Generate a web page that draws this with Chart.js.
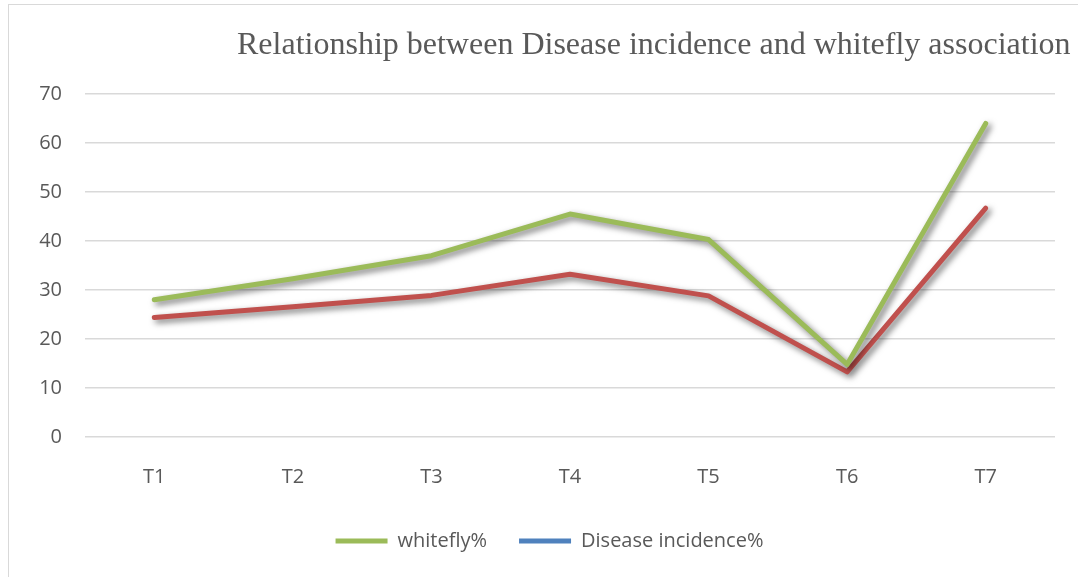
<!DOCTYPE html>
<html>
<head>
<meta charset="utf-8">
<script src="https://cdn.jsdelivr.net/npm/chart.js@4.4.1/dist/chart.umd.min.js"></script>
<style>
    html, body { margin: 0; padding: 0; background: #fff; overflow: hidden; }
    #wrap { position: relative; width: 1078px; height: 577px; }
    #frame {
        position: absolute; left: 8px; top: 4px; width: 1200px; height: 700px;
        border: 1px solid #d9d9d9; box-sizing: border-box;
    }
    canvas { position: absolute; left: 0; top: 0; }
</style>
</head>
<body>
<div id="wrap">
    <div id="frame"></div>
    <canvas id="chart" width="1078" height="577"></canvas>
</div>
<script>
// --- Data ---
const categories = ['T1', 'T2', 'T3', 'T4', 'T5', 'T6', 'T7'];
const whitefly = [28.0, 32.3, 37.0, 45.5, 40.3, 14.8, 64.0];
const disease = [24.4, 26.6, 28.9, 33.2, 28.8, 13.3, 46.7];
const yTicks = [0, 10, 20, 30, 40, 50, 60, 70];

const chartTitle = 'Relationship between Disease incidence and whitefly association';
const textColor = '#595959';
const labelFont = { family: '"Open Sans", sans-serif', size: 20 };

// --- Plugins ---
// soft drop shadow under each line, like the office chart
const lineShadow = {
    id: 'lineShadow',
    beforeDatasetDraw(chart) {
        const ctx = chart.ctx;
        ctx.save();
        ctx.shadowColor = 'rgba(0,0,0,0.55)';
        ctx.shadowBlur = 6;
        ctx.shadowOffsetX = 3;
        ctx.shadowOffsetY = 3;
    },
    afterDatasetDraw(chart) {
        chart.ctx.restore();
    }
};

// title sits off-centre to the right in the reference
const titleText = {
    id: 'titleText',
    afterDraw(chart) {
        const ctx = chart.ctx;
        ctx.save();
        ctx.font = '32px "Liberation Serif", "Times New Roman", serif';
        ctx.fillStyle = textColor;
        ctx.textAlign = 'left';
        ctx.textBaseline = 'alphabetic';
        ctx.fillText(chartTitle, 237, 54);
        ctx.restore();
    }
};

// legend in the reference is centred a bit right of the canvas middle
const legendShift = {
    id: 'legendShift',
    afterLayout(chart) {
        if (!chart.legend) return;
        chart.legend.left += 22;
        chart.legend.right += 22;
    }
};

const ctx = document.getElementById('chart');

new Chart(ctx, {
    type: 'line',
    data: {
        labels: categories,
        datasets: [
            {
                label: 'whitefly%',
                data: whitefly,
                borderColor: '#9BBB59',
                backgroundColor: '#9BBB59',
                borderWidth: 5,
                pointRadius: 0,
                tension: 0,
                borderCapStyle: 'round',
                borderJoinStyle: 'round'
            },
            {
                label: 'Disease incidence%',
                data: disease,
                borderColor: '#C0504D',
                backgroundColor: '#C0504D',
                borderWidth: 5,
                pointRadius: 0,
                tension: 0,
                borderCapStyle: 'round',
                borderJoinStyle: 'round'
            }
        ]
    },
    options: {
        responsive: false,
        animation: false,
        layout: { padding: { top: 94, right: 23, left: 0, bottom: 16 } },
        scales: {
            x: {
                offset: true,
                afterFit(scale) { scale.height = 62; },
                grid: { display: false, drawTicks: false },
                border: { display: false },
                ticks: {
                    color: textColor,
                    padding: 28,
                    font: labelFont
                }
            },
            y: {
                min: 0,
                max: 70,
                afterFit(scale) { scale.width = 85; },
                afterBuildTicks(scale) { scale.ticks = yTicks.map(v => ({ value: v })); },
                grid: { color: '#d9d9d9', lineWidth: 1.5, drawTicks: false },
                border: { display: false },
                ticks: {
                    color: textColor,
                    padding: 23,
                    font: labelFont
                }
            }
        },
        plugins: {
            tooltip: { enabled: false },
            title: { display: false },
            legend: {
                position: 'bottom',
                labels: {
                    color: textColor,
                    usePointStyle: true,
                    pointStyle: 'line',
                    pointStyleWidth: 52,
                    padding: 32,
                    font: labelFont,
                    generateLabels(chart) {
                        const items = Chart.defaults.plugins.legend.labels.generateLabels(chart);
                        // the legend swatch for disease is blue in the reference
                        items.forEach(item => {
                            item.pointStyle = 'line';
                            item.lineWidth = 5;
                            if (item.datasetIndex === 1) {
                                item.strokeStyle = '#4F81BD';
                                item.fillStyle = '#4F81BD';
                            }
                        });
                        return items;
                    }
                }
            }
        }
    },
    plugins: [lineShadow, titleText, legendShift]
});
</script>
</body>
</html>
